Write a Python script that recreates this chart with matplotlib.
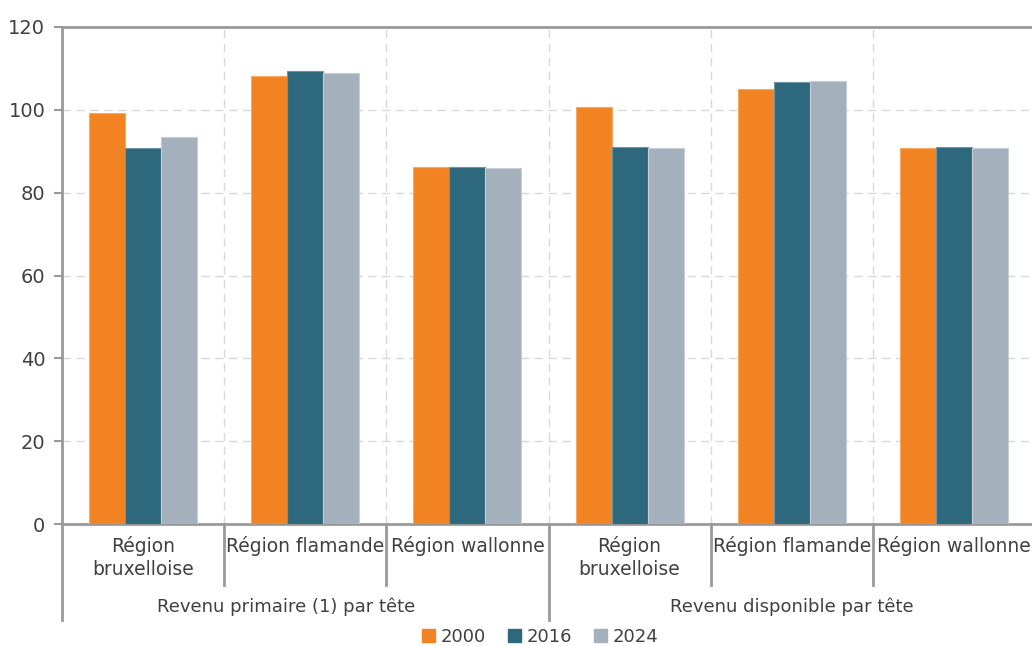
import matplotlib
matplotlib.use("Agg")
import matplotlib.pyplot as plt
import matplotlib.transforms as mtransforms
from matplotlib.patches import Patch
import numpy as np

plt.rcParams['font.family'] = ['DejaVu Sans']

# data
regions = ['Région\nbruxelloise', 'Région flamande', 'Région wallonne',
           'Région\nbruxelloise', 'Région flamande', 'Région wallonne']
groups = ['Revenu primaire (1) par tête', 'Revenu disponible par tête']
years = ['2000', '2016', '2024']
v2000 = [99.3, 108.1, 86.1, 100.6, 105.1, 90.9]
v2016 = [90.9, 109.4, 86.3, 91.1, 106.7, 91.1]
v2024 = [93.4, 109.0, 86.0, 90.7, 106.9, 90.9]

colors = ['#F28322', '#2E687D', '#A5B0BD']
edges = ['#F7A865', '#6E95A4', '#C5CDD6']
grey = '#999999'
txt = '#404040'

fig = plt.figure(figsize=(10.32, 6.46), dpi=100)
ax = fig.add_axes([62/1032, 122/646, 973/1032, 497/646])

x = np.arange(len(regions)) + 0.5
w = 0.222
for i, vals in enumerate([v2000, v2016, v2024]):
    ax.bar(x + (i - 1) * w, vals, w, color=colors[i], edgecolor=edges[i],
           linewidth=0.8, zorder=3)

ax.set_xlim(0, 6)
ax.set_ylim(0, 120)
ax.set_yticks(range(0, 121, 20))
ax.tick_params(axis='y', colors=grey, labelcolor=txt, labelsize=14, length=6,
               width=1.5, pad=6)
ax.set_xticks([])

# grid
for yy in range(20, 120, 20):
    ax.axhline(yy, color='#D9D9D9', lw=1, ls=(0, (6, 4)), zorder=1)
for xx in range(1, 6):
    ax.axvline(xx, color='#D9D9D9', lw=1, ls=(0, (6, 4)), zorder=1)

for s in ['left', 'bottom', 'top']:
    ax.spines[s].set_color(grey)
    ax.spines[s].set_linewidth(2)
ax.spines['right'].set_visible(False)

# category axis below
trans = mtransforms.blended_transform_factory(ax.transData, ax.transAxes)
for xx in [1, 2, 4, 5]:
    ax.plot([xx, xx], [0, -0.123], color=grey, lw=2, transform=trans, clip_on=False)
for xx in [0, 3, 6]:
    ax.plot([xx, xx], [0, -0.193], color=grey, lw=2, transform=trans, clip_on=False)

for xi, lab in zip(x, regions):
    ax.text(xi, -0.024, lab, transform=trans, ha='center', va='top',
            fontsize=13.5, color=txt, linespacing=1.3)
# first group label sits a little left of its span in the original
for gx, lab in zip([1.38, 4.5], groups):
    ax.text(gx, -0.167, lab, transform=trans, ha='center', va='center',
            fontsize=13, color=txt)

handles = [Patch(color=c, label=y) for c, y in zip(colors, years)]
fig.legend(handles=handles, loc='center', bbox_to_anchor=(540/1032, 1 - 637/646),
           ncol=3, frameon=False, fontsize=13, handlelength=0.75, handleheight=0.75,
           handletextpad=0.3, columnspacing=1.2, labelcolor=txt)

fig.savefig('out.png', dpi=100)
